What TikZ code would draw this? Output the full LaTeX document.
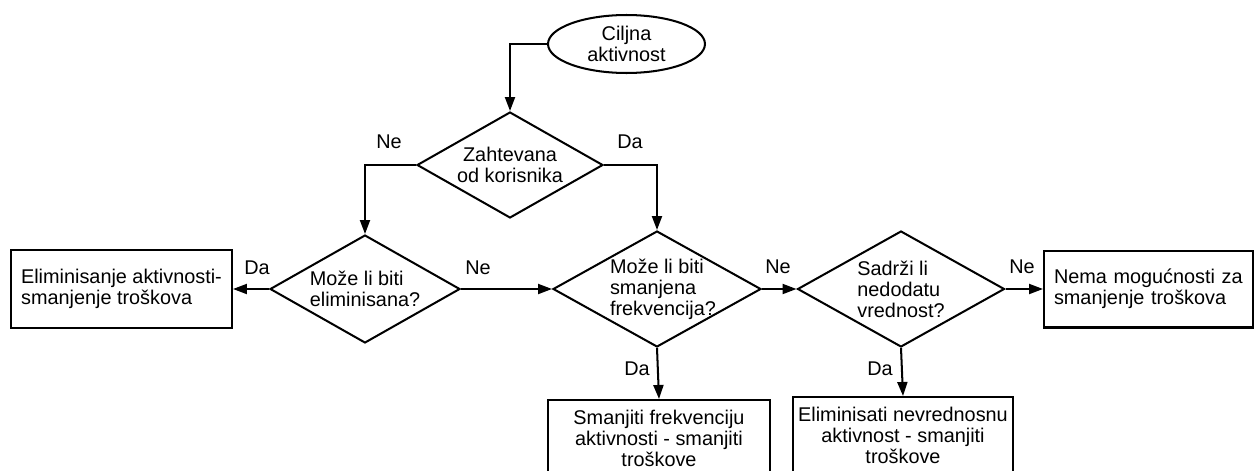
\documentclass[tikz,border=0pt]{standalone}
\usepackage{fontspec}
\setmainfont{Liberation Sans}
\usepackage{tikz}
\usetikzlibrary{shapes.geometric,arrows.meta}
\newcommand{\flowfont}{\fontsize{11.3}{12}\selectfont}
\tikzset{
  decision/.style={draw, line width=1.15pt, shape=diamond, inner sep=0pt},
  outcome/.style={draw, line width=1.15pt, rectangle, inner sep=0pt},
  flow/.style={line width=1.15pt, -{Triangle[length=0.28cm,width=0.2cm]}},
  answer/.style={inner sep=0pt}
}
\begin{document}
\begin{tikzpicture}[x=0.02cm, y=-0.02cm, font=\flowfont]
\useasboundingbox (0,0) rectangle (1254,470);
\clip (0,0) rectangle (1254,470);

\node[draw, line width=1.15pt, ellipse, minimum width=3.14cm, minimum height=1.16cm, inner sep=0pt, align=center] (cilj) at (626.5,44) {Ciljna\\aktivnost};

\node[decision, minimum width=3.72cm, minimum height=2.12cm, label={[align=center]center:{Zahtevana\\od korisnika}}] (zahtev) at (510,165) {};
\node[decision, minimum width=3.8cm, minimum height=2.16cm, label={[align=left]center:{Može li biti\\eliminisana?}}] (elim) at (365,289) {};
\node[decision, minimum width=4.16cm, minimum height=2.32cm, label={[align=left, xshift=0.12cm]center:{Može li biti\\smanjena\\frekvencija?}}] (frekv) at (657,289) {};
\node[decision, minimum width=4.14cm, minimum height=2.32cm, label={[align=left]center:{Sadrži li\\nedodatu\\vrednost?}}] (vredn) at (901,289) {};

\node[outcome, align=left, minimum width=4.42cm, minimum height=1.56cm] (ukloni) at (121.5,289) {Eliminisanje aktivnosti-\\smanjenje troškova};
\node[outcome, align=left, text width=3.78cm, inner xsep=0.2cm, minimum height=1.54cm, anchor=west] (nema) at (1043,289) {Nema mogućnosti za\\smanjenje troškova};
\node[outcome, align=center, minimum width=4.44cm, inner ysep=0.2cm, anchor=north] (smanji) at (659,399) {Smanjiti frekvenciju\\aktivnosti - smanjiti\\troškove};
\node[outcome, align=center, minimum width=4.4cm, inner ysep=0.2cm, anchor=north] (nevred) at (903,396) {Eliminisati nevrednosnu\\aktivnost - smanjiti\\troškove};

\draw[flow] (cilj.west) -| (zahtev.north);
\draw[flow] (zahtev.west) -| (elim.north);
\draw[flow] (zahtev.east) -| (frekv.north);
\draw[flow] (elim.west) -- (ukloni.east);
\draw[flow] (elim.east) -- (frekv.west);
\draw[flow] (frekv.east) -- (vredn.west);
\draw[flow] (vredn.east) -- (nema.west);
\draw[flow] (frekv.south) -- (smanji.north);
\draw[flow] (vredn.south) -- (nevred.north);

\node[answer] (neZah) at (389,142) {Ne};
\node[answer] (daZah) at (630,142) {Da};
\node[answer] (daElim) at (257,268) {Da};
\node[answer] (neElim) at (478,268) {Ne};
\node[answer] (neFrek) at (778,267) {Ne};
\node[answer] (neVred) at (1022,267) {Ne};
\node[answer] (daFrek) at (637,369) {Da};
\node[answer] (daVred) at (880,369) {Da};
\end{tikzpicture}
\end{document}
